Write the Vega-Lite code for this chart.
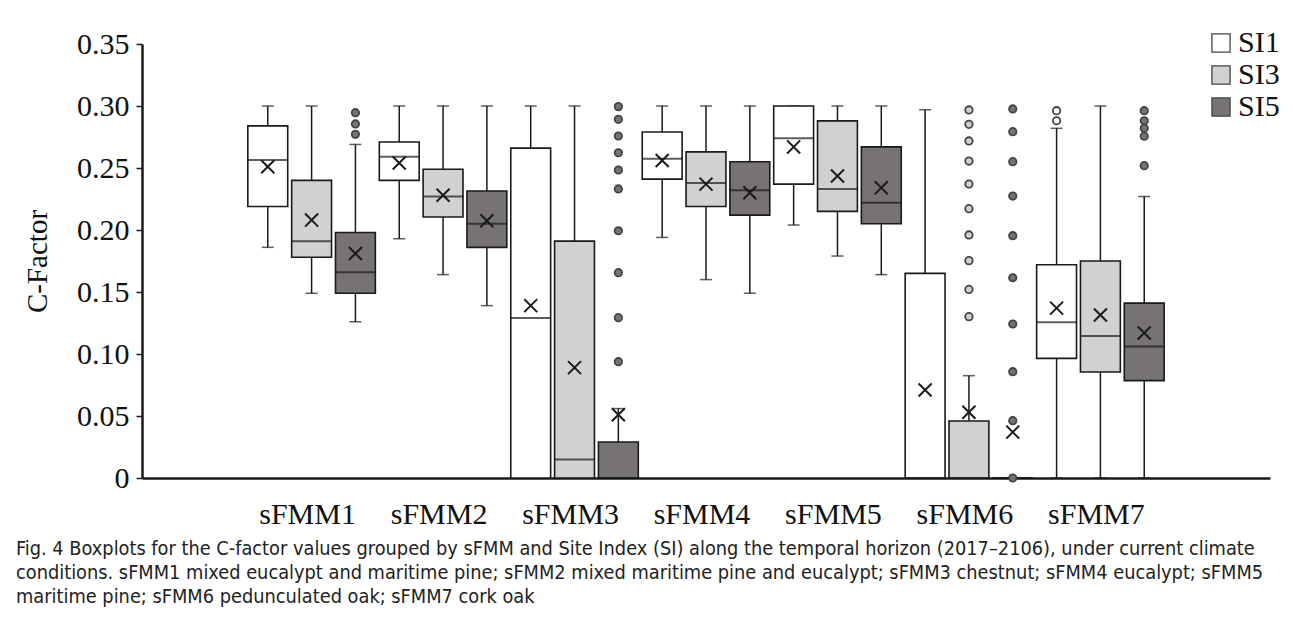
{
  "$schema": "https://vega.github.io/schema/vega-lite/v6.json",
  "autosize": {"type": "none"},
  "width": 1128,
  "height": 434,
  "padding": {"left": 142, "top": 44, "right": 23, "bottom": 146},
  "background": "white",
  "config": {
    "view": {"stroke": null},
    "axis": {"grid": false, "domainColor": "#1a1a1a", "tickColor": "#1a1a1a", "labelColor": "#111", "titleColor": "#111"}
  },
  "title": {
    "text": [
      "Fig. 4 Boxplots for the C-factor values grouped by sFMM and Site Index (SI) along the temporal horizon (2017–2106), under current climate",
      "conditions. sFMM1 mixed eucalypt and maritime pine; sFMM2 mixed maritime pine and eucalypt; sFMM3 chestnut; sFMM4 eucalypt; sFMM5",
      "maritime pine; sFMM6 pedunculated oak; sFMM7 cork oak"
    ],
    "orient": "bottom",
    "anchor": "start",
    "frame": "group",
    "dx": -126,
    "offset": 10,
    "font": "DejaVu Sans Condensed",
    "fontSize": 19.8,
    "fontWeight": "normal",
    "lineHeight": 24,
    "color": "#222"
  },
  "datasets": {
    "stats": [
      {"g": "sFMM1", "si": "SI1", "lo": 0.186, "q1": 0.219, "med": 0.2565, "q3": 0.284, "hi": 0.300, "mean": 0.251},
      {"g": "sFMM1", "si": "SI3", "lo": 0.149, "q1": 0.178, "med": 0.191, "q3": 0.240, "hi": 0.300, "mean": 0.208},
      {"g": "sFMM1", "si": "SI5", "lo": 0.126, "q1": 0.149, "med": 0.166, "q3": 0.198, "hi": 0.269, "mean": 0.181},
      {"g": "sFMM2", "si": "SI1", "lo": 0.193, "q1": 0.240, "med": 0.259, "q3": 0.271, "hi": 0.300, "mean": 0.254},
      {"g": "sFMM2", "si": "SI3", "lo": 0.164, "q1": 0.2105, "med": 0.227, "q3": 0.249, "hi": 0.300, "mean": 0.228},
      {"g": "sFMM2", "si": "SI5", "lo": 0.139, "q1": 0.186, "med": 0.205, "q3": 0.2315, "hi": 0.300, "mean": 0.2075},
      {"g": "sFMM3", "si": "SI1", "lo": 0, "q1": 0, "med": 0.129, "q3": 0.266, "hi": 0.300, "mean": 0.139},
      {"g": "sFMM3", "si": "SI3", "lo": 0, "q1": 0, "med": 0.015, "q3": 0.191, "hi": 0.300, "mean": 0.089},
      {"g": "sFMM3", "si": "SI5", "lo": 0, "q1": 0, "med": 0, "q3": 0.029, "hi": 0.056, "mean": 0.051},
      {"g": "sFMM4", "si": "SI1", "lo": 0.194, "q1": 0.241, "med": 0.2575, "q3": 0.279, "hi": 0.300, "mean": 0.256},
      {"g": "sFMM4", "si": "SI3", "lo": 0.160, "q1": 0.219, "med": 0.238, "q3": 0.263, "hi": 0.300, "mean": 0.237},
      {"g": "sFMM4", "si": "SI5", "lo": 0.149, "q1": 0.212, "med": 0.232, "q3": 0.255, "hi": 0.300, "mean": 0.230},
      {"g": "sFMM5", "si": "SI1", "lo": 0.204, "q1": 0.237, "med": 0.274, "q3": 0.300, "hi": 0.300, "mean": 0.267},
      {"g": "sFMM5", "si": "SI3", "lo": 0.179, "q1": 0.215, "med": 0.233, "q3": 0.288, "hi": 0.300, "mean": 0.2435},
      {"g": "sFMM5", "si": "SI5", "lo": 0.164, "q1": 0.205, "med": 0.222, "q3": 0.267, "hi": 0.300, "mean": 0.234},
      {"g": "sFMM6", "si": "SI1", "lo": 0, "q1": 0, "med": 0, "q3": 0.165, "hi": 0.297, "mean": 0.071},
      {"g": "sFMM6", "si": "SI3", "lo": 0, "q1": 0, "med": 0, "q3": 0.046, "hi": 0.0825, "mean": 0.053},
      {"g": "sFMM6", "si": "SI5", "lo": 0, "q1": 0, "med": 0, "q3": 0, "hi": 0, "mean": 0.037},
      {"g": "sFMM7", "si": "SI1", "lo": 0, "q1": 0.0965, "med": 0.1256, "q3": 0.172, "hi": 0.282, "mean": 0.137},
      {"g": "sFMM7", "si": "SI3", "lo": 0, "q1": 0.0855, "med": 0.1145, "q3": 0.175, "hi": 0.300, "mean": 0.1315},
      {"g": "sFMM7", "si": "SI5", "lo": 0, "q1": 0.0785, "med": 0.106, "q3": 0.141, "hi": 0.227, "mean": 0.117}
    ],
    "outliers": [
      {"g": "sFMM1", "si": "SI5", "v": 0.2946},
      {"g": "sFMM1", "si": "SI5", "v": 0.2855},
      {"g": "sFMM1", "si": "SI5", "v": 0.2772},
      {"g": "sFMM3", "si": "SI5", "v": 0.2995},
      {"g": "sFMM3", "si": "SI5", "v": 0.2893},
      {"g": "sFMM3", "si": "SI5", "v": 0.2758},
      {"g": "sFMM3", "si": "SI5", "v": 0.2623},
      {"g": "sFMM3", "si": "SI5", "v": 0.2484},
      {"g": "sFMM3", "si": "SI5", "v": 0.2331},
      {"g": "sFMM3", "si": "SI5", "v": 0.1994},
      {"g": "sFMM3", "si": "SI5", "v": 0.1656},
      {"g": "sFMM3", "si": "SI5", "v": 0.1293},
      {"g": "sFMM3", "si": "SI5", "v": 0.0938},
      {"g": "sFMM6", "si": "SI3", "v": 0.2968},
      {"g": "sFMM6", "si": "SI3", "v": 0.2852},
      {"g": "sFMM6", "si": "SI3", "v": 0.2718},
      {"g": "sFMM6", "si": "SI3", "v": 0.2556},
      {"g": "sFMM6", "si": "SI3", "v": 0.2371},
      {"g": "sFMM6", "si": "SI3", "v": 0.2172},
      {"g": "sFMM6", "si": "SI3", "v": 0.196},
      {"g": "sFMM6", "si": "SI3", "v": 0.1753},
      {"g": "sFMM6", "si": "SI3", "v": 0.1521},
      {"g": "sFMM6", "si": "SI3", "v": 0.1301},
      {"g": "sFMM6", "si": "SI5", "v": 0.2976},
      {"g": "sFMM6", "si": "SI5", "v": 0.2793},
      {"g": "sFMM6", "si": "SI5", "v": 0.2551},
      {"g": "sFMM6", "si": "SI5", "v": 0.2274},
      {"g": "sFMM6", "si": "SI5", "v": 0.1954},
      {"g": "sFMM6", "si": "SI5", "v": 0.1615},
      {"g": "sFMM6", "si": "SI5", "v": 0.1242},
      {"g": "sFMM6", "si": "SI5", "v": 0.0857},
      {"g": "sFMM6", "si": "SI5", "v": 0.0462},
      {"g": "sFMM6", "si": "SI5", "v": 0},
      {"g": "sFMM7", "si": "SI1", "v": 0.2962},
      {"g": "sFMM7", "si": "SI1", "v": 0.2881},
      {"g": "sFMM7", "si": "SI5", "v": 0.2962},
      {"g": "sFMM7", "si": "SI5", "v": 0.2881},
      {"g": "sFMM7", "si": "SI5", "v": 0.282},
      {"g": "sFMM7", "si": "SI5", "v": 0.2756},
      {"g": "sFMM7", "si": "SI5", "v": 0.2519}
    ]
  },
  "encoding": {
    "x": {
      "field": "g", "type": "nominal",
      "scale": {"domain": ["sFMM1", "sFMM2", "sFMM3", "sFMM4", "sFMM5", "sFMM6", "sFMM7"], "paddingInner": 0, "paddingOuter": 0.79},
      "axis": {"title": null, "labelAngle": 0, "ticks": false, "domainWidth": 2.5, "labelFont": "Liberation Serif", "labelFontSize": 30, "labelPadding": 21, "labelOffset": -4}
    },
    "xOffset": {
      "field": "si", "type": "nominal",
      "scale": {"domain": ["SI1", "SI3", "SI5"], "paddingInner": 0.09, "paddingOuter": 0.045}
    }
  },
  "layer": [
    {
      "data": {"name": "stats"},
      "mark": {"type": "rule", "color": "#1a1a1a", "strokeWidth": 1.5},
      "encoding": {
        "y": {"field": "lo", "type": "quantitative", "scale": {"domain": [0, 0.35], "nice": false},
          "axis": {"title": "C-Factor", "values": [0, 0.05, 0.1, 0.15, 0.2, 0.25, 0.3, 0.35], "labelExpr": "datum.value == 0 ? '0' : format(datum.value, '.2f')", "domainWidth": 2.5, "tickSize": 6, "tickWidth": 1.5, "labelFont": "Liberation Serif", "labelFontSize": 30, "labelPadding": 7, "titleFont": "Liberation Serif", "titleFontSize": 29, "titleFontWeight": "normal", "titlePadding": 24}},
        "y2": {"field": "hi"}
      }
    },
    {
      "data": {"name": "stats"},
      "mark": {"type": "tick", "color": "#1a1a1a", "size": 12, "thickness": 1.5},
      "encoding": {"y": {"field": "lo", "type": "quantitative"}}
    },
    {
      "data": {"name": "stats"},
      "mark": {"type": "tick", "color": "#1a1a1a", "size": 12, "thickness": 1.5},
      "encoding": {"y": {"field": "hi", "type": "quantitative"}}
    },
    {
      "data": {"name": "stats"},
      "mark": {"type": "bar", "stroke": "#1a1a1a", "strokeWidth": 1.6},
      "encoding": {
        "y": {"field": "q1", "type": "quantitative"},
        "y2": {"field": "q3"},
        "fill": {"field": "si", "type": "nominal",
          "scale": {"domain": ["SI1", "SI3", "SI5"], "range": ["#ffffff", "#d2d1d2", "#767372"]},
          "legend": {"title": null, "orient": "none", "legendX": 1064, "legendY": -16, "symbolType": "square", "symbolSize": 330, "symbolStrokeColor": "#222", "symbolStrokeWidth": 1.3, "labelFont": "Liberation Serif", "labelFontSize": 30, "labelColor": "#111", "labelOffset": 2, "rowPadding": 2, "padding": 0}}
      }
    },
    {
      "data": {"name": "stats"},
      "mark": {"type": "tick", "color": "#1a1a1a", "size": 40, "thickness": 2},
      "encoding": {"y": {"field": "med", "type": "quantitative"}}
    },
    {
      "data": {"name": "outliers"},
      "mark": {"type": "point", "shape": "circle", "filled": true, "size": 55, "stroke": "#444", "strokeWidth": 1.8, "opacity": 1},
      "encoding": {
        "y": {"field": "v", "type": "quantitative"},
        "fill": {"field": "si", "type": "nominal"}
      }
    },
    {
      "data": {"name": "stats"},
      "mark": {"type": "point", "shape": "M-1,-1L1,1M-1,1L1,-1", "filled": false, "size": 170, "stroke": "#1a1a1a", "strokeWidth": 2, "opacity": 1},
      "encoding": {"y": {"field": "mean", "type": "quantitative"}}
    }
  ]
}
